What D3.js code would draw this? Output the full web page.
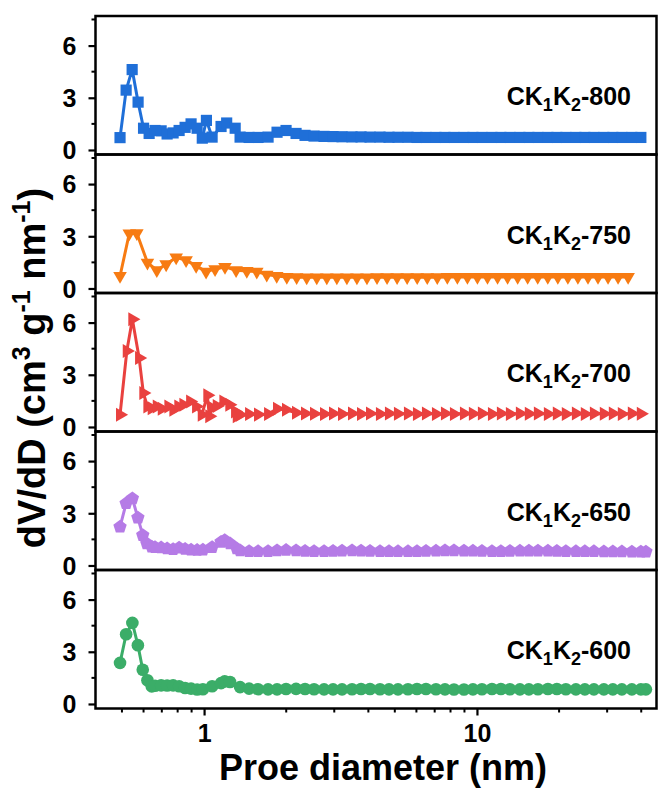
<!DOCTYPE html>
<html>
<head>
<meta charset="utf-8">
<script src="https://cdn.jsdelivr.net/npm/d3@7"></script>
<style>
  body { margin: 0; background: #fff; }
  svg { display: block; }
  text { font-family: Arial, "Liberation Sans", sans-serif; font-weight: bold; fill: #000; }
</style>
</head>
<body>
<svg width="659" height="790"></svg>
<script>
// pore diameters (nm) shared by the long flat tail of four curves
const tailDiam = [
  1.355, 1.462, 1.577, 1.716, 1.851, 1.997, 2.173, 2.344, 2.529, 2.752, 2.969,
  3.203, 3.485, 3.760, 4.056, 4.413, 4.761, 5.136, 5.588, 6.029, 6.504, 7.077,
  7.635, 8.237, 8.962, 9.667, 10.43, 11.35, 12.24, 13.21, 14.37, 15.50, 16.73,
  18.20, 19.63, 21.18, 23.05, 24.86, 26.83, 29.18, 31.48, 33.97, 36.96, 39.87
];

// CK1K2-800
const head800 = [
  [0.492, 0.71], [0.518, 3.44], [0.545, 4.62], [0.573, 2.75], [0.600, 1.25],
  [0.629, 0.95], [0.661, 1.12], [0.696, 1.10], [0.732, 0.92], [0.770, 0.98],
  [0.810, 1.12], [0.852, 1.30], [0.896, 1.50], [0.943, 1.25], [0.985, 0.68],
  [1.020, 1.70], [1.070, 0.74], [1.154, 1.35], [1.210, 1.55], [1.300, 1.25]
];
const tail800 = [
  0.74, 0.72, 0.72, 0.74, 1.02, 1.12, 0.95, 0.84, 0.80, 0.78, 0.77,
  0.76, 0.75, 0.75, 0.74, 0.74, 0.73, 0.73, 0.73, 0.72, 0.72, 0.72,
  0.72, 0.72, 0.72, 0.72, 0.72, 0.72, 0.72, 0.72, 0.72, 0.72, 0.72,
  0.72, 0.72, 0.72, 0.72, 0.72, 0.72, 0.72, 0.72, 0.72, 0.72, 0.72
];

// CK1K2-750 (own, coarser grid)
const data750 = [
  [0.492, 0.72], [0.532, 3.16], [0.567, 3.18], [0.620, 1.49], [0.671, 1.05],
  [0.726, 1.39], [0.790, 1.78], [0.859, 1.63], [0.935, 1.30], [1.017, 0.97],
  [1.097, 1.11], [1.193, 1.24], [1.310, 1.05], [1.434, 1.01], [1.560, 0.97],
  [1.697, 0.80], [1.846, 0.72], [2.010, 0.66], [2.184, 0.65], [2.377, 0.64],
  [2.588, 0.64], [2.817, 0.64], [3.066, 0.64], [3.337, 0.64], [3.632, 0.64],
  [3.953, 0.64], [4.303, 0.65], [4.684, 0.65], [5.098, 0.65], [5.549, 0.65],
  [6.040, 0.65], [6.575, 0.65], [7.156, 0.65], [7.789, 0.66], [8.478, 0.66],
  [9.228, 0.66], [10.04, 0.66], [10.93, 0.66], [11.90, 0.66], [12.95, 0.66],
  [14.10, 0.66], [15.34, 0.66], [16.70, 0.66], [18.18, 0.66], [19.79, 0.66],
  [21.54, 0.66], [23.44, 0.66], [25.52, 0.66], [27.77, 0.66], [30.23, 0.66],
  [32.90, 0.66], [35.81, 0.66]
];

// CK1K2-700
const head700 = [
  [0.492, 0.70], [0.521, 4.36], [0.546, 6.19], [0.578, 3.97], [0.599, 1.95],
  [0.620, 1.18], [0.643, 1.08], [0.671, 1.18], [0.700, 1.05], [0.740, 1.18],
  [0.772, 0.99], [0.805, 1.18], [0.840, 1.28], [0.889, 1.47], [0.935, 1.18],
  [0.981, 0.70], [1.028, 1.82], [1.045, 0.62], [1.070, 1.10], [1.113, 1.20],
  [1.177, 1.47], [1.238, 1.28], [1.299, 0.89], [1.318, 0.61]
];
const tail700 = [
  0.70, 0.74, 0.71, 0.75, 1.05, 0.99, 0.82, 0.78, 0.76, 0.75, 0.77,
  0.75, 0.77, 0.75, 0.78, 0.75, 0.77, 0.76, 0.77, 0.75, 0.78, 0.75,
  0.77, 0.75, 0.77, 0.76, 0.77, 0.75, 0.78, 0.75, 0.77, 0.76, 0.77,
  0.75, 0.77, 0.75, 0.78, 0.75, 0.77, 0.76, 0.77, 0.75, 0.77, 0.76
];

// CK1K2-650
const head650 = [
  [0.492, 2.22], [0.518, 3.57], [0.546, 3.85], [0.572, 2.74], [0.596, 1.74],
  [0.617, 1.26], [0.643, 1.07], [0.661, 1.05], [0.696, 1.03], [0.732, 0.97],
  [0.770, 0.93], [0.810, 1.02], [0.852, 0.95], [0.896, 0.90], [0.943, 0.88],
  [0.990, 0.90], [1.070, 1.05], [1.154, 1.35], [1.190, 1.45], [1.245, 1.26],
  [1.318, 0.97]
];
const tail650 = [
  0.86, 0.82, 0.81, 0.82, 0.86, 0.88, 0.86, 0.83, 0.82, 0.82, 0.83,
  0.85, 0.86, 0.85, 0.83, 0.82, 0.82, 0.81, 0.81, 0.82, 0.83, 0.84,
  0.86, 0.86, 0.85, 0.84, 0.83, 0.82, 0.82, 0.83, 0.84, 0.85, 0.85,
  0.84, 0.83, 0.82, 0.81, 0.81, 0.81, 0.80, 0.80, 0.80, 0.79, 0.79
];
const end650 = [[41.6, 0.79]];

// CK1K2-600
const head600 = [
  [0.492, 2.36], [0.518, 4.01], [0.546, 4.66], [0.572, 3.38], [0.596, 1.97],
  [0.620, 1.36], [0.643, 1.01], [0.661, 1.05], [0.696, 1.07], [0.732, 1.06],
  [0.770, 1.07], [0.810, 1.02], [0.852, 0.92], [0.896, 0.88], [0.943, 0.83],
  [0.990, 0.85], [1.070, 1.02], [1.154, 1.20], [1.190, 1.30], [1.245, 1.26]
];
const tail600 = [
  0.97, 0.88, 0.85, 0.84, 0.84, 0.86, 0.87, 0.86, 0.85, 0.84, 0.84,
  0.84, 0.85, 0.86, 0.86, 0.85, 0.84, 0.84, 0.85, 0.86, 0.86, 0.85,
  0.84, 0.83, 0.83, 0.84, 0.85, 0.86, 0.86, 0.85, 0.84, 0.84, 0.85,
  0.86, 0.86, 0.85, 0.84, 0.84, 0.84, 0.84, 0.84, 0.84, 0.84, 0.84
];
const end600 = [[41.6, 0.84]];

const sampleTemps = ["800", "750", "700", "650", "600"];
const seriesColors = ["#1f6fd8", "#f77b12", "#e9413f", "#b57be6", "#3bad68"];
const yTicks = [0, 3, 6];
const yMinorTicks = [1.5, 4.5, 7.5];
const xTicks = [1, 10];
const xMinorTicks = [0.5, 0.6, 0.7, 0.8, 0.9, 2, 3, 4, 5, 6, 7, 8, 9, 20, 30, 40];

const withTail = (head, tail, end = []) =>
  head.concat(tail.map((v, i) => [tailDiam[i], v]), end);

const series = [
  withTail(head800, tail800),
  data750,
  withTail(head700, tail700),
  withTail(head650, tail650, end650),
  withTail(head600, tail600, end600)
];

// pentagon marker, d3 has none built in
const symbolPentagon = {
  draw(ctx, size) {
    const r = Math.sqrt(size / 2.378);
    for (let i = 0; i < 5; i++) {
      const a = -Math.PI / 2 + (i * 2 * Math.PI) / 5;
      const px = r * Math.cos(a), py = r * Math.sin(a);
      i ? ctx.lineTo(px, py) : ctx.moveTo(px, py);
    }
    ctx.closePath();
  }
};

const markers = [
  { type: d3.symbolSquare, size: 125, rot: 0 },
  { type: d3.symbolTriangle, size: 80, rot: 180 },
  { type: d3.symbolTriangle, size: 85, rot: 90 },
  { type: symbolPentagon, size: 118, rot: 0 },
  { type: d3.symbolCircle, size: 125, rot: 0 }
];

const plotLeft = 95.5, plotRight = 656.5, plotTop = 16, panelH = 138.5;

const svg = d3.select("svg");

const x = d3.scaleLog().domain([0.4, 45.5]).range([plotLeft, plotRight]);
const y = d3.scaleLinear().domain([-0.26, 7.7]).range([panelH, 0]);

const line = d3.line()
  .x((d) => x(d[0]))
  .y((d) => y(d[1]));

sampleTemps.forEach((temp, k) => {
  const g = svg.append("g")
    .attr("class", "panel")
    .attr("transform", `translate(0,${plotTop + k * panelH})`);

  // y axis with labelled major ticks
  const yAxis = g.append("g")
    .attr("transform", `translate(${plotLeft},0)`)
    .call(d3.axisLeft(y).tickValues(yTicks).tickSize(7).tickPadding(12).tickFormat(d3.format("d")));
  yAxis.select(".domain").remove();
  yAxis.selectAll(".tick line").attr("stroke-width", 2.2);
  yAxis.selectAll(".tick text")
    .style("font-size", "25px")
    .attr("dy", "0.35em");

  g.selectAll(".yminor")
    .data(yMinorTicks)
    .join("line")
    .attr("class", "yminor")
    .attr("x1", plotLeft - 4)
    .attr("x2", plotLeft)
    .attr("y1", (d) => y(d))
    .attr("y2", (d) => y(d))
    .attr("stroke", "#000")
    .attr("stroke-width", 2);

  const color = seriesColors[k];
  const m = markers[k];
  const data = series[k];

  g.append("path")
    .datum(data)
    .attr("d", line)
    .attr("fill", "none")
    .attr("stroke", color)
    .attr("stroke-width", 3)
    .style("stroke-linejoin", "round");

  const sym = d3.symbol().type(m.type).size(m.size);
  g.selectAll(".pt")
    .data(data)
    .join("path")
    .attr("class", "pt")
    .attr("d", sym)
    .attr("transform", (d) => `translate(${x(d[0])},${y(d[1])}) rotate(${m.rot})`)
    .attr("fill", color);

  // frame
  g.append("rect")
    .attr("x", plotLeft)
    .attr("y", 0)
    .attr("width", plotRight - plotLeft)
    .attr("height", panelH)
    .attr("fill", "none")
    .attr("stroke", "#000")
    .attr("stroke-width", 2.5);

  // sample label CK1K2-xxx
  const label = g.append("text")
    .attr("x", 631)
    .attr("y", 89)
    .attr("text-anchor", "end")
    .style("font-size", "25px");
  label.append("tspan").text("CK");
  label.append("tspan").attr("dy", 6).style("font-size", "18px").text("1");
  label.append("tspan").attr("dy", -6).text("K");
  label.append("tspan").attr("dy", 6).style("font-size", "18px").text("2");
  label.append("tspan").attr("dy", -6).text("-" + temp);

  // x axis only on the lowest panel
  if (k === sampleTemps.length - 1) {
    const xAxis = g.append("g")
      .attr("transform", `translate(0,${panelH})`)
      .call(d3.axisBottom(x).tickValues(xTicks).tickSize(7).tickPadding(9).tickFormat(d3.format("d")));
    xAxis.select(".domain").remove();
    xAxis.selectAll(".tick line").attr("stroke-width", 2.2);
    xAxis.selectAll(".tick text").style("font-size", "25px");

    g.selectAll(".xminor")
      .data(xMinorTicks)
      .join("line")
      .attr("class", "xminor")
      .attr("x1", (d) => x(d))
      .attr("x2", (d) => x(d))
      .attr("y1", panelH)
      .attr("y2", panelH + 4)
      .attr("stroke", "#000")
      .attr("stroke-width", 2);
  }
});

// axis titles
svg.append("text")
  .attr("x", 383)
  .attr("y", 780)
  .attr("text-anchor", "middle")
  .style("font-size", "36px")
  .text("Proe diameter (nm)");

const yTitle = svg.append("text")
  .attr("transform", "translate(45,368) rotate(-90)")
  .attr("text-anchor", "middle")
  .style("font-size", "38px");
yTitle.append("tspan").text("dV/dD (cm");
yTitle.append("tspan").attr("dy", -15).style("font-size", "25px").text("3");
yTitle.append("tspan").attr("dy", 15).text(" g");
yTitle.append("tspan").attr("dy", -15).style("font-size", "25px").text("-1");
yTitle.append("tspan").attr("dy", 15).text(" nm");
yTitle.append("tspan").attr("dy", -15).style("font-size", "25px").text("-1");
yTitle.append("tspan").attr("dy", 15).text(")");
</script>
</body>
</html>
